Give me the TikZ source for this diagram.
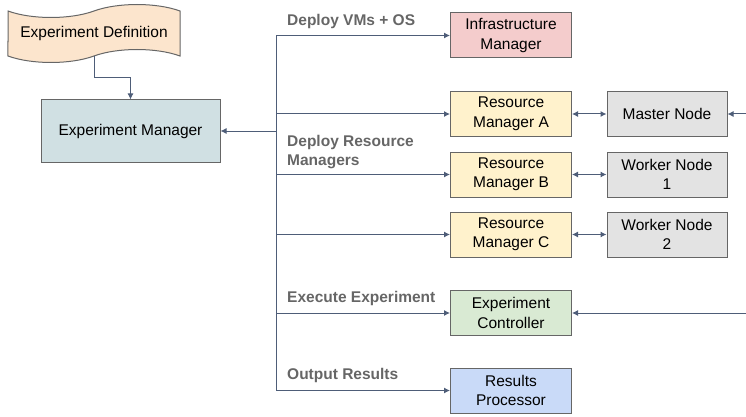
\documentclass[tikz,border=0pt]{standalone}
\usepackage{fontspec}
\setmainfont{Liberation Sans}
\usetikzlibrary{shapes.symbols,arrows.meta}

\definecolor{lineC}{HTML}{4E5D78}
\definecolor{edgeC}{HTML}{666666}
\definecolor{lblC}{HTML}{666666}
\definecolor{defC}{HTML}{FCE5CD}
\definecolor{emC}{HTML}{D0E0E3}
\definecolor{infC}{HTML}{F4CCCC}
\definecolor{rmC}{HTML}{FFF2CC}
\definecolor{wnC}{HTML}{E3E3E3}
\definecolor{ecC}{HTML}{D9EAD3}
\definecolor{rpC}{HTML}{C9DAF8}

\begin{document}
\begin{tikzpicture}[x=1pt,y=-1pt,
	every node/.style={font=\fontsize{15.5}{19.5}\selectfont},
	box/.style={draw=edgeC, line width=1pt, minimum width=121pt, minimum height=45pt, align=center, inner sep=1pt},
	arr/.style={draw=lineC, line width=1pt, -{Latex[length=6pt,width=6pt]}},
	arrtwo/.style={draw=lineC, line width=1pt, {Latex[length=6pt,width=6pt]}-{Latex[length=6pt,width=6pt]}},
	lbl/.style={anchor=west, inner sep=0pt, text=lblC, font=\fontsize{15.5}{19.5}\selectfont\bfseries, align=left}]

\useasboundingbox (0,0) rectangle (746,417);

\node[tape, draw=edgeC, fill=defC, line width=1pt, minimum width=172pt, minimum height=58pt, tape bend height=13pt] (def) at (94,33.5) {Experiment Definition};
\node[box, fill=emC, minimum width=179pt, minimum height=62pt] (em) at (130.5,131) {Experiment Manager};

\node[box, fill=infC] (infra) at (511,35.5) {Infrastructure\\Manager};
\foreach \n/\y/\t in {rma/114/A, rmb/174.5/B, rmc/234.5/C}{
	\node[box, fill=rmC] (\n) at (511,\y) {Resource\\Manager \t};
}
\node[box, fill=ecC] (ctrl) at (511,313) {Experiment\\Controller};
\node[box, fill=rpC] (res) at (511,390.5) {Results\\Processor};

\node[box, fill=wnC, minimum width=120pt] (master) at (667,114) {Master Node};
\node[box, fill=wnC, minimum width=120pt] (wn1) at (667,174.5) {Worker Node\\1};
\node[box, fill=wnC, minimum width=120pt] (wn2) at (667,234.5) {Worker Node\\2};

\node[lbl] (l1) at (287,21) {Deploy VMs + OS};
\node[lbl] (l2) at (287,152) {Deploy Resource\\Managers};
\node[lbl] (l3) at (287,298) {Execute Experiment};
\node[lbl] (l4) at (287,375) {Output Results};

\coordinate (trunk) at (276,0);
\coordinate (mIn) at (746,114);
\coordinate (cIn) at (746,313);

\draw[draw=lineC, line width=1pt] (infra.west -| trunk) -- (res.west -| trunk);
\foreach \n in {infra,rma,rmb,rmc,ctrl,res}{
	\draw[arr] (\n.west -| trunk) -- (\n.west);
}
\draw[arr] (em.east -| trunk) -- (em.east);
\draw[arr] (def.south) -- ++(0,21) -| (em.north);

\draw[arrtwo] (rma.east) -- (master.west);
\draw[arrtwo] (rmb.east) -- (wn1.west);
\draw[arrtwo] (rmc.east) -- (wn2.west);
\draw[arr] (mIn) -- (master.east);
\draw[arr] (cIn) -- (ctrl.east);

\end{tikzpicture}
\end{document}
